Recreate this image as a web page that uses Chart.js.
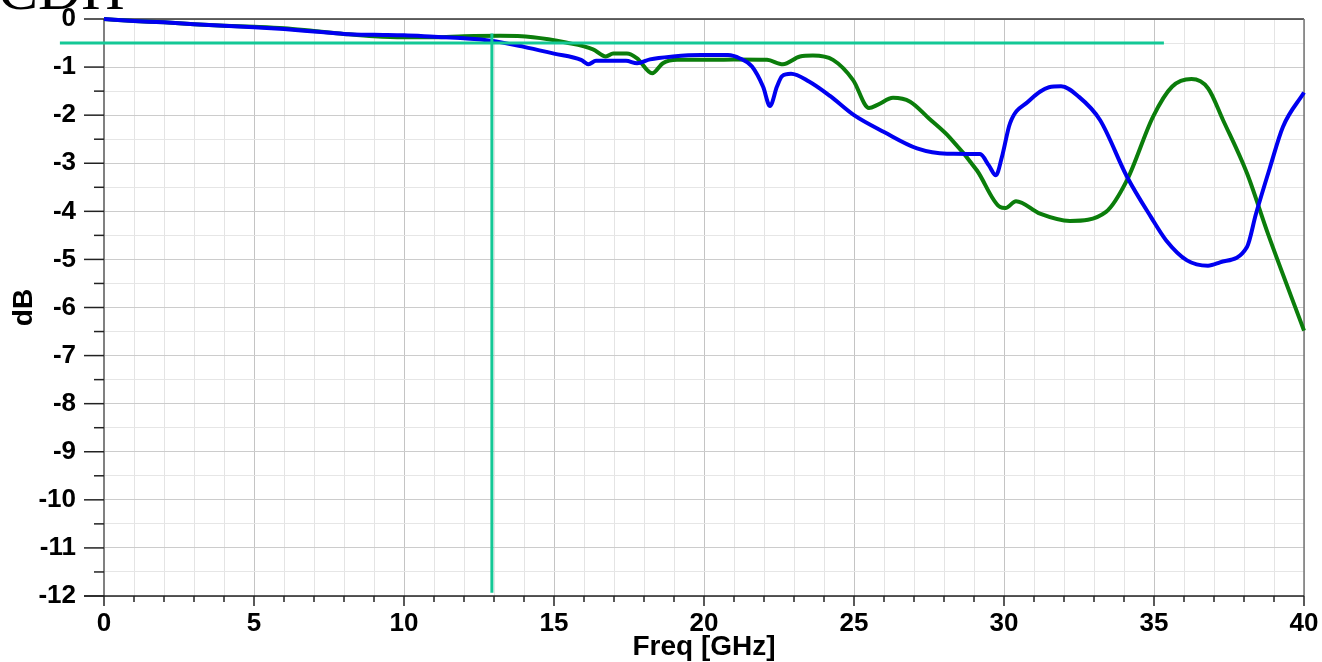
<!DOCTYPE html>
<html>
<head>
<meta charset="utf-8">
<script src="https://cdn.jsdelivr.net/npm/chart.js@4/dist/chart.umd.min.js"></script>
<style>
  html, body { margin: 0; padding: 0; background: #ffffff; }
  canvas { display: block; }
</style>
</head>
<body>
<canvas id="c" width="1322" height="662"></canvas>
<script>
// ---- data ----
const freqBlue = [0, 1, 2, 3, 4, 5, 6, 7, 8, 9, 10, 11, 12, 12.9, 14, 15, 15.9, 16.15, 16.4, 17.4, 17.77, 18.2, 18.97, 19.9, 20.8, 21.2, 21.6, 21.97, 22.2, 22.43, 22.6, 22.9, 23.5, 24.2, 25, 26, 27.1, 28.1, 29.2, 29.5, 29.73, 29.93, 30.2, 30.8, 31.5, 31.9, 32.5, 33.2, 34.1, 34.9, 35.4, 36.1, 36.8, 37.2, 38.1, 38.4, 38.87, 39.3, 40];
const dbBlue   = [0, -0.04, -0.07, -0.11, -0.14, -0.17, -0.21, -0.26, -0.31, -0.33, -0.34, -0.37, -0.40, -0.45, -0.58, -0.72, -0.85, -0.94, -0.87, -0.87, -0.92, -0.84, -0.78, -0.75, -0.75, -0.82, -0.99, -1.41, -1.81, -1.41, -1.19, -1.14, -1.3, -1.6, -2.0, -2.35, -2.69, -2.8, -2.81, -3.05, -3.25, -2.87, -2.17, -1.72, -1.42, -1.40, -1.62, -2.1, -3.28, -4.12, -4.6, -5.02, -5.13, -5.06, -4.74, -4.05, -3.08, -2.24, -1.53];

const freqGreen = [0, 1, 2, 3, 4, 5, 6, 7, 8, 9, 10, 11, 12, 13.2, 14.3, 15.4, 16.3, 16.73, 16.97, 17.43, 17.77, 18.27, 18.63, 19.1, 20, 21, 22.1, 22.63, 23.2, 23.63, 24.3, 24.97, 25.5, 25.8, 26.3, 26.87, 27.5, 28.2, 29.1, 29.87, 30.05, 30.4, 31.2, 32.2, 33.4, 34.1, 34.97, 35.6, 36.25, 36.8, 37.3, 38.1, 38.8, 40];
const dbGreen   = [0, -0.04, -0.07, -0.11, -0.14, -0.16, -0.19, -0.25, -0.31, -0.36, -0.38, -0.38, -0.36, -0.35, -0.38, -0.49, -0.63, -0.78, -0.72, -0.72, -0.82, -1.13, -0.92, -0.85, -0.85, -0.84, -0.85, -0.94, -0.78, -0.76, -0.85, -1.27, -1.85, -1.78, -1.64, -1.72, -2.07, -2.47, -3.15, -3.91, -3.93, -3.79, -4.05, -4.2, -4.01, -3.35, -2.03, -1.41, -1.25, -1.44, -2.1, -3.21, -4.47, -6.48];

// marker lines
const hMarkerX = [-1.47, 35.33];
const hMarkerY = [-0.5, -0.5];
const vMarkerX = [12.93, 12.93];
const vMarkerY = [-0.3, -11.93];

const xTickStep = 1;
const xLabelEvery = 5;
const yTickStep = 0.5;

const titleText = 'CDH';
const xTitle = 'Freq [GHz]';
const yTitle = 'dB';

// ---- helpers ----
const pts = (xs, ys) => xs.map((x, i) => ({ x: x, y: ys[i] }));

const decorPlugin = {
  id: 'decor',
  beforeDatasetsDraw(chart) {
    const { ctx, chartArea: a } = chart;
    ctx.save();
    ctx.strokeStyle = '#333333';
    ctx.lineWidth = 1.5;
    ctx.beginPath();
    ctx.moveTo(a.left, a.top); ctx.lineTo(a.right, a.top);
    ctx.stroke();
    ctx.strokeStyle = '#777777';
    ctx.beginPath();
    ctx.moveTo(a.right, a.top); ctx.lineTo(a.right, a.bottom);
    ctx.stroke();
    ctx.strokeStyle = '#808080';
    ctx.lineWidth = 2;
    ctx.beginPath();
    ctx.moveTo(a.left, a.top); ctx.lineTo(a.left, a.bottom);
    ctx.stroke();
    ctx.strokeStyle = '#222222';
    ctx.lineWidth = 1.5;
    ctx.beginPath();
    ctx.moveTo(a.left - 20, a.bottom); ctx.lineTo(a.right, a.bottom);
    ctx.stroke();
    const xs = chart.scales.x, ys = chart.scales.y;
    ctx.strokeStyle = '#222222';
    ctx.lineWidth = 1.5;
    ys.ticks.forEach(t => {
      const py = ys.getPixelForValue(t.value);
      const major = Math.abs(t.value - Math.round(t.value)) < 1e-6;
      ctx.beginPath();
      ctx.moveTo(a.left - (major ? 20 : 10), py); ctx.lineTo(a.left, py);
      ctx.stroke();
    });
    xs.ticks.forEach(t => {
      const px = xs.getPixelForValue(t.value);
      const major = Math.abs(t.value % xLabelEvery) < 1e-6;
      ctx.beginPath();
      ctx.moveTo(px, a.bottom); ctx.lineTo(px, a.bottom + (major ? 10 : 6));
      ctx.stroke();
    });
    ctx.restore();
  },
  afterDraw(chart) {
    const { ctx } = chart;
    ctx.save();
    ctx.fillStyle = '#000000';
    ctx.font = '60px "Liberation Serif", "Times New Roman", serif';
    ctx.textBaseline = 'alphabetic';
    ctx.textAlign = 'left';
    ctx.fillText(titleText, -2, 9);
    ctx.restore();
  }
};

const axisFont = { family: '"Liberation Sans", Arial, sans-serif', weight: 'bold', size: 26 };
const titleFont = { family: '"Liberation Sans", Arial, sans-serif', weight: 'bold', size: 28 };
const xTitleFont = { family: '"Liberation Sans", Arial, sans-serif', weight: 'bold', size: 28, lineHeight: 1.05 };

new Chart(document.getElementById('c'), {
  type: 'line',
  data: {
    datasets: [
      { label: 'green', data: pts(freqGreen, dbGreen), borderColor: '#0b7d0b', borderWidth: 4, pointRadius: 0, cubicInterpolationMode: 'monotone', clip: false, order: 2 },
      { label: 'blue', data: pts(freqBlue, dbBlue), borderColor: '#0000f0', borderWidth: 4, pointRadius: 0, cubicInterpolationMode: 'monotone', clip: false, order: 1 },
      { label: 'hmarker', data: pts(hMarkerX, hMarkerY), borderColor: '#14c896', borderWidth: 3, pointRadius: 0, tension: 0, clip: false, order: 0 },
      { label: 'vmarker', data: pts(vMarkerX, vMarkerY), borderColor: '#14c896', borderWidth: 3, pointRadius: 0, tension: 0, clip: false, order: 0 }
    ]
  },
  options: {
    responsive: false,
    animation: false,
    events: [],
    layout: { padding: { top: 19, right: 18, left: 0, bottom: 0 } },
    plugins: { legend: { display: false }, tooltip: { enabled: false } },
    scales: {
      x: {
        type: 'linear', min: 0, max: 40,
        afterFit: s => { s.height = 66; s.paddingLeft = 0; s.paddingRight = 0; },
        border: { display: false },
        grid: {
          drawTicks: false,
          lineWidth: 1,
          color: c => (Math.abs(c.tick.value % xLabelEvery) < 1e-6 ? '#c4c4c4' : '#e4e4e4')
        },
        ticks: {
          stepSize: xTickStep, autoSkip: false, maxRotation: 0, padding: 12,
          color: '#000000', font: axisFont,
          callback: v => (Math.abs(v % xLabelEvery) < 1e-6 ? String(v) : '')
        },
        title: { display: true, text: xTitle, color: '#000000', font: xTitleFont, padding: { top: 0, bottom: 0 } }
      },
      y: {
        type: 'linear', min: -12, max: 0,
        afterFit: s => { s.width = 104; s.paddingTop = 0; s.paddingBottom = 0; },
        border: { display: false },
        grid: {
          drawTicks: false,
          lineWidth: 1,
          color: c => (Math.abs(c.tick.value - Math.round(c.tick.value)) < 1e-6 ? '#cccccc' : '#e6e6e6')
        },
        ticks: {
          stepSize: yTickStep, autoSkip: false, padding: 28,
          color: '#000000', font: axisFont,
          callback: v => (Math.abs(v - Math.round(v)) < 1e-6 ? String(v) : '')
        },
        title: { display: true, text: yTitle, color: '#000000', font: titleFont, padding: { top: 7, bottom: 0 } }
      }
    }
  },
  plugins: [decorPlugin]
});
</script>
</body>
</html>
